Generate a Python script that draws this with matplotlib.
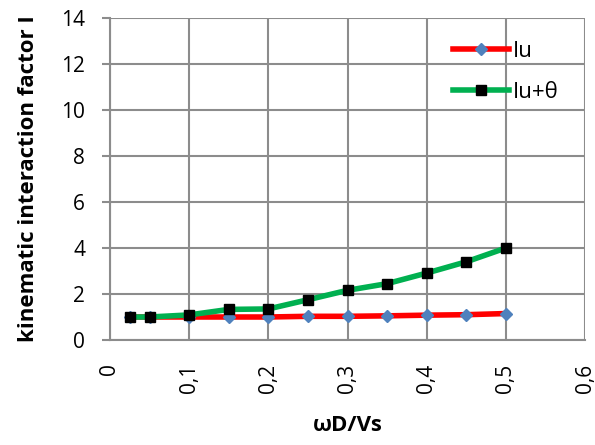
import matplotlib
matplotlib.use("Agg")
import matplotlib.pyplot as plt
from matplotlib.ticker import MultipleLocator, FuncFormatter

x_iu = [0.025, 0.05, 0.1, 0.15, 0.2, 0.25, 0.3, 0.35, 0.4, 0.45, 0.5]
iu = [1.0, 1.0, 1.0, 1.0, 1.0, 1.03, 1.03, 1.05, 1.08, 1.1, 1.15]
x_iut = [0.025, 0.05, 0.1, 0.15, 0.2, 0.25, 0.3, 0.35, 0.4, 0.45, 0.5]
iut = [1.0, 1.0, 1.09, 1.33, 1.35, 1.75, 2.16, 2.45, 2.91, 3.4, 4.0]

plt.rcParams['font.family'] = ['Open Sans', 'DejaVu Sans']

fig = plt.figure(figsize=(5.95, 4.45), dpi=100)
ax = fig.add_axes([110/595, 1 - 340/445, 475/595, 322/445])

ax.plot(x_iu, iu, color='#ff0000', lw=4, marker='D', ms=6,
        mfc='#4f81bd', mec='#4f81bd', label='Iu', zorder=3)
ax.plot(x_iut, iut, color='#00b050', lw=4, marker='s', ms=7.5,
        mfc='black', mec='black', label='Iu+θ', zorder=4)

ax.set_xlim(0, 0.6)
ax.set_ylim(0, 14)
ax.xaxis.set_major_locator(MultipleLocator(0.1))
ax.yaxis.set_major_locator(MultipleLocator(2))
ax.xaxis.set_major_formatter(FuncFormatter(lambda v, p: ('%g' % round(v, 1)).replace('.', ',')))
ax.grid(True, color='#8c8c8c', lw=1.5)
ax.set_axisbelow(True)
for s in ['top', 'right']:
    ax.spines[s].set_visible(False)
for s in ['left', 'bottom']:
    ax.spines[s].set_color('#8c8c8c')
    ax.spines[s].set_linewidth(1.5)
ax.tick_params(axis='y', length=6, width=1.5, color='#8c8c8c', labelsize=15, pad=12)
ax.tick_params(axis='x', length=0, labelsize=15, pad=17, labelrotation=90)

ax.set_xlabel('ωD/Vs', fontsize=16, fontweight='bold', labelpad=16)
ax.set_ylabel('kinematic interaction factor I', fontsize=16, fontweight='bold', labelpad=16)

leg = ax.legend(loc='center left', bbox_to_anchor=(442/595, 1 - 72/445),
                bbox_transform=fig.transFigure, frameon=False, borderpad=0,
                fontsize=16, handlelength=2.5, labelspacing=0.9, handletextpad=0.2)

fig.savefig('out.png', dpi=100)
